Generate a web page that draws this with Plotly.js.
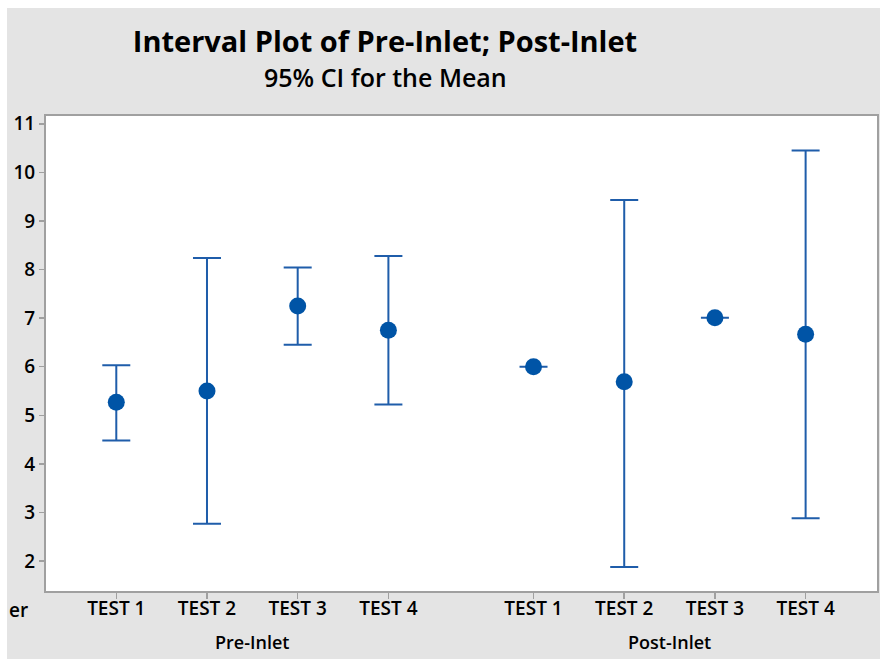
<!DOCTYPE html>
<html>
<head>
<meta charset="utf-8">
<script src="https://cdn.plot.ly/plotly-3.0.1.min.js"></script>
<style>
  html, body { margin: 0; padding: 0; background: #ffffff; width: 880px; height: 659px; overflow: hidden; }
  #chart { position: absolute; left: 7px; top: 8px; width: 873px; height: 651px; }
</style>
</head>
<body>
<div id="chart"></div>
<script>
// Data
const groups = ["Pre-Inlet", "Pre-Inlet", "Pre-Inlet", "Pre-Inlet",
                "Post-Inlet", "Post-Inlet", "Post-Inlet", "Post-Inlet"];
const tickLabels = ["TEST 1", "TEST 2", "TEST 3", "TEST 4",
                    "TEST 1", "TEST 2", "TEST 3", "TEST 4"];
const xPositions = [1, 2, 3, 4, 5.6, 6.6, 7.6, 8.6];
const means = [5.27, 5.50, 7.25, 6.75, 6.00, 5.69, 7.01, 6.67];
const upper = [6.03, 8.24, 8.04, 8.28, 6.00, 9.43, 7.01, 10.45];
const lower = [4.48, 2.77, 6.45, 5.22, 6.00, 1.88, 7.01, 2.88];
const yTicks = [2, 3, 4, 5, 6, 7, 8, 9, 10, 11];

const errPlus = upper.map((u, i) => u - means[i]);
const errMinus = lower.map((l, i) => means[i] - l);

const FONT = "Open Sans, Noto Sans, DejaVu Sans, sans-serif";
const BLUE = "#0054A6";

const trace = {
  type: "scatter",
  mode: "markers",
  x: xPositions,
  y: means,
  marker: { color: BLUE, size: 17 },
  error_y: {
    type: "data",
    symmetric: false,
    array: errPlus,
    arrayminus: errMinus,
    color: "#1F5DAA",
    thickness: 2,
    width: 14
  },
  hoverinfo: "x+y",
  showlegend: false
};

function groupCenter(name) {
  const xs = xPositions.filter((x, i) => groups[i] === name);
  return (Math.min(...xs) + Math.max(...xs)) / 2;
}
const groupNames = [...new Set(groups)];

const annotations = groupNames.map(g => ({
  text: g, x: groupCenter(g), xref: "x", y: -0.107, yref: "paper",
  showarrow: false, xanchor: "center", yanchor: "middle",
  font: { family: FONT, size: 18, color: "#000", weight: 600 }
}));
annotations.push({
  text: "er", x: -0.0465, xref: "paper", y: -0.04, yref: "paper",
  showarrow: false, xanchor: "left", yanchor: "middle",
  font: { family: FONT, size: 19, color: "#000", weight: 600 }
});
annotations.push({
  text: "95% CI for the Mean", x: (378 - 39) / 831, xref: "paper", y: 1.082, yref: "paper",
  showarrow: false, xanchor: "center", yanchor: "middle",
  font: { family: FONT, size: 25, color: "#000", weight: 600 }
});

const layout = {
  width: 873,
  height: 651,
  paper_bgcolor: "#E4E4E4",
  plot_bgcolor: "#FFFFFF",
  margin: { l: 39, r: 3, t: 108, b: 68 },
  title: {
    text: "<b>Interval Plot of Pre-Inlet; Post-Inlet</b>",
    x: 378 / 873, xanchor: "center",
    y: 1 - 34 / 651, yanchor: "middle",
    font: { family: FONT, size: 29, color: "#000" }
  },
  xaxis: {
    range: [0.225, 9.387],
    tickmode: "array",
    tickvals: xPositions,
    ticktext: tickLabels,
    ticks: "outside",
    ticklen: 6,
    tickcolor: "#A0A0A0",
    tickwidth: 1.5,
    ticklabelstandoff: -7,
    showgrid: false,
    zeroline: false,
    showline: true,
    linecolor: "#A0A0A0",
    linewidth: 2,
    mirror: true,
    tickfont: { family: FONT, size: 19, color: "#000", weight: 600 }
  },
  yaxis: {
    range: [1.384, 11.16],
    tickmode: "array",
    tickvals: yTicks,
    ticks: "outside",
    ticklen: 5,
    tickcolor: "#A0A0A0",
    tickwidth: 1.5,
    showgrid: false,
    zeroline: false,
    showline: true,
    linecolor: "#A0A0A0",
    linewidth: 2,
    mirror: true,
    tickfont: { family: FONT, size: 19, color: "#000", weight: 600 }
  },
  annotations: annotations
};

Plotly.newPlot("chart", [trace], layout, { displayModeBar: false, staticPlot: true });
</script>
</body>
</html>
